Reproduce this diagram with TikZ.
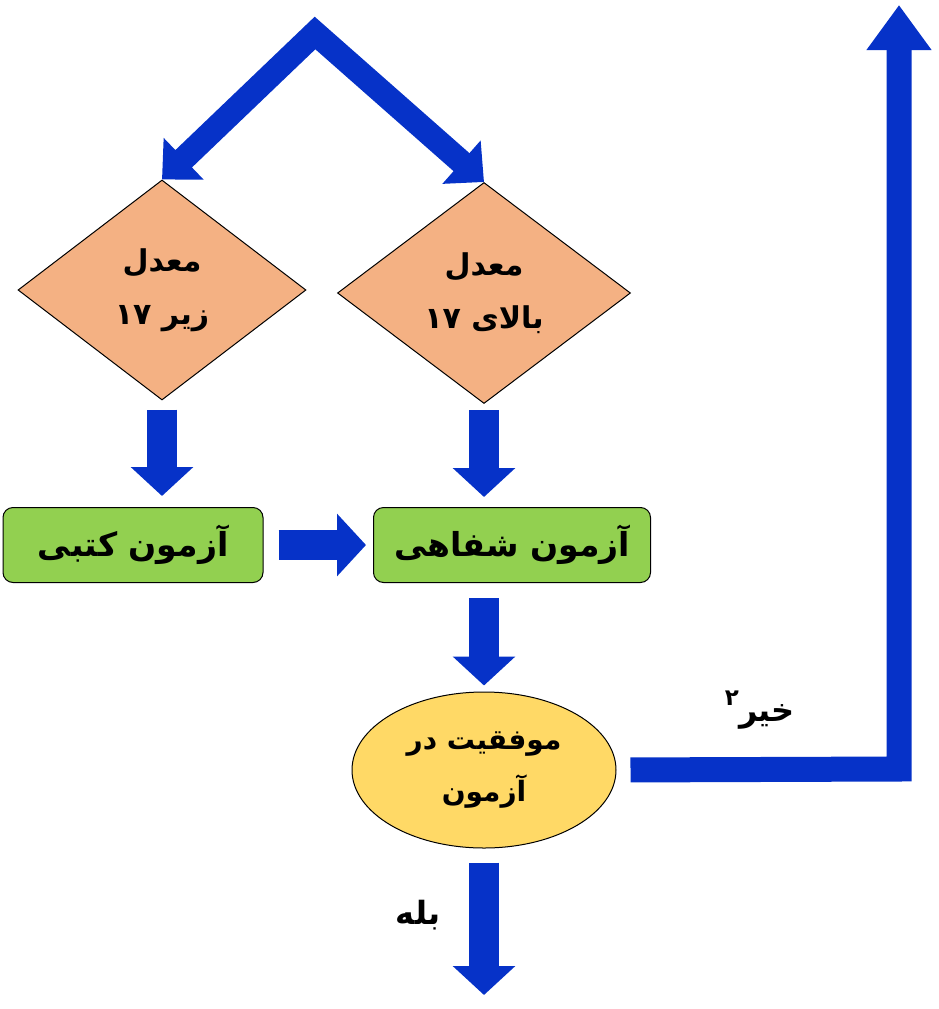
\documentclass[tikz,border=0pt]{standalone}
\usepackage{fontspec}
\usetikzlibrary{arrows.meta,positioning,shapes.geometric}
\TeXXeTstate=1
\newfontfamily\fa[Script=Arabic]{DejaVu Sans}
\definecolor{C0}{HTML}{0632C8}
\definecolor{C1}{HTML}{F4B183}
\definecolor{C2}{HTML}{92D050}
\definecolor{C3}{HTML}{FFD966}
\newcommand{\rtl}[1]{\beginR #1\endR}
\tikzset{
    cond/.style={diamond, draw=black, fill=C1, line width=1pt, inner sep=0pt, align=center,
        font=\fa\bfseries\fontsize{30}{53}\selectfont},
    exam/.style={rectangle, rounded corners=10pt, draw=black, fill=C2, line width=1pt, inner sep=0pt,
        minimum height=75pt, font=\fa\bfseries\fontsize{33}{38}\selectfont},
    result/.style={ellipse, draw=black, fill=C3, line width=1pt, inner sep=0pt, align=center,
        minimum width=264pt, minimum height=156pt, font=\fa\bfseries\fontsize{28}{52}\selectfont},
    lbl/.style={font=\fa\bfseries\fontsize{32}{36}\selectfont},
    downarrow/.style={C0, line width=30pt, -{Triangle[width=61pt, length=29pt]}},
    splitarrow/.style={C0, line width=24pt, line join=miter, {Triangle[width=56pt, length=30pt]}-{Triangle[width=56pt, length=30pt]}},
    backarrow/.style={C0, line width=25pt, line join=miter, -{Triangle[width=62pt, length=45pt]}},
}
\begin{document}
\begin{tikzpicture}[x=1pt, y=-1pt]
    \useasboundingbox (0,0) rectangle (939,1009);
    % shapes
    \node [cond, minimum width=288pt, minimum height=220pt] (low) at (162,290) {\rtl{معدل}\\\rtl{زیر ۱۷}};
    \node [cond, minimum width=293pt, minimum height=221pt] (high) at (484,293) {\rtl{معدل}\\\rtl{بالای ۱۷}};
    \node [exam, minimum width=260pt] (written) at (133,545) {\rtl{آزمون کتبی}};
    \node [exam, minimum width=277pt] (oral) at (512,545) {\rtl{آزمون شفاهی}};
    \node [result] (pass) at (484,770) {\rtl{موفقیت در}\\\rtl{آزمون}};
    \coordinate (top) at (315,33);
    \coordinate (corner) at (899,769);
    \coordinate (exit) at (899,5);
    \coordinate (out) at (484,995);
    % arrows
    \draw [splitarrow] (low.north) -- (top) -- (high.north);
    \draw [downarrow, shorten <=9pt, shorten >=11pt] (low.south) -- (low.south |- written.north);
    \draw [downarrow, shorten <=6pt, shorten >=10pt] (high.south) -- (high.south |- oral.north);
    \draw [downarrow, shorten <=15pt, shorten >=7pt] (written.east) -- (oral.west);
    \draw [downarrow, shorten <=15pt, shorten >=6pt] (pass.north |- oral.south) -- (pass.north);
    \draw [downarrow, shorten <=14pt] (pass.south) -- (out);
    \draw [backarrow, shorten <=14pt] (pass.east) -- (corner) -- (exit);
    % labels
    \node [lbl] (no) at (760,710) {\rtl{خیر\raisebox{.5em}{\fontsize{23}{24}\selectfont ۲}}};
    \node [lbl] (yes) at (418,915) {\rtl{بله}};
\end{tikzpicture}
\end{document}
